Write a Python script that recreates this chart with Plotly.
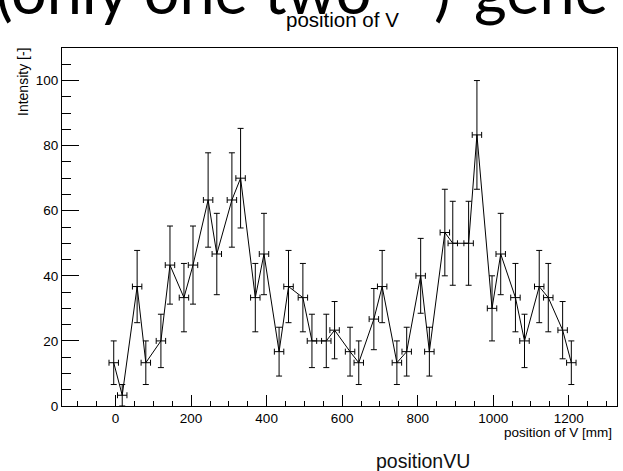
import plotly.graph_objects as go

# ---- data ----
positions_mm = [-5, 17.5, 57, 80, 120, 144, 181, 205, 245, 268,
                308, 331, 370, 393, 433, 458, 496, 520, 558, 580,
                621, 644, 684, 706, 745, 771, 808, 831, 872, 893,
                935, 957, 997, 1020, 1059, 1083, 1122, 1146, 1184, 1207]
intensity = [13.3, 3.3, 36.7, 13.3, 20.0, 43.3, 33.3, 43.3, 63.3, 46.7,
             63.3, 70.0, 33.3, 46.7, 16.7, 36.7, 33.3, 20.0, 20.0, 23.3,
             16.7, 13.3, 26.7, 36.7, 13.3, 16.7, 40.0, 16.7, 53.3, 50.0,
             50.0, 83.3, 30.0, 46.7, 33.3, 20.0, 36.7, 33.3, 23.3, 13.3]
intensity_err = [6.7, 3.3, 11.1, 6.7, 8.2, 12.0, 10.5, 12.0, 14.5, 12.5,
                 14.5, 15.3, 10.5, 12.5, 7.5, 11.1, 10.5, 8.2, 8.2, 8.8,
                 7.5, 6.7, 9.4, 11.1, 6.7, 7.5, 11.5, 7.5, 13.3, 12.9,
                 12.9, 16.7, 10.0, 12.5, 10.5, 8.2, 11.1, 10.5, 8.8, 6.7]
position_half_width = 12.5

x_tick_values = [0, 200, 400, 600, 800, 1000, 1200]
y_tick_values = [0, 20, 40, 60, 80, 100]

title_text = "position of V"
x_title = "position of V [mm]"
y_title = "Intensity [-]"
bottom_text = "positionVU"
slide_text_parts = ["(only one two", ")", "gene"]

# ---- layout geometry (pixels) ----
W, H = 623, 471
ML, MR, MT, MB = 62, 6, 48, 65
PW, PH = W - ML - MR, H - MT - MB


def px(x):
    return (x - ML) / PW


def py(y):
    return (H - MB - y) / PH


AX_FONT = "Liberation Sans, Arial, sans-serif"
SLIDE_FONT = dict(family="Lato, Carlito, sans-serif", size=63, color="black")

fig = go.Figure()
fig.add_trace(go.Scatter(
    x=positions_mm, y=intensity, mode="lines",
    line=dict(color="black", width=1),
    error_y=dict(type="data", array=intensity_err, visible=True,
                 color="black", thickness=1, width=3),
    error_x=dict(type="constant", value=position_half_width, visible=True,
                 color="black", thickness=1, width=3),
    showlegend=False, hoverinfo="x+y",
))

fig.update_layout(
    width=W, height=H,
    margin=dict(l=ML, r=MR, t=MT, b=MB, pad=0),
    paper_bgcolor="white", plot_bgcolor="white",
    font=dict(family=AX_FONT, color="black", size=14),
    xaxis=dict(range=[-142, 1328], tickvals=x_tick_values,
               ticks="inside", ticklen=11, tickwidth=1, tickcolor="black",
               minor=dict(dtick=50, ticks="inside", ticklen=5.5,
                          tickcolor="black", tickwidth=1, showgrid=False),
               showline=True, linecolor="black", linewidth=1, mirror=True,
               showgrid=False, zeroline=False,
               tickfont=dict(size=13.5, family=AX_FONT, color="black")),
    yaxis=dict(range=[0, 110], tickvals=y_tick_values,
               ticks="inside", ticklen=17, tickwidth=1, tickcolor="black",
               minor=dict(dtick=5, ticks="inside", ticklen=8.5,
                          tickcolor="black", tickwidth=1, showgrid=False),
               showline=True, linecolor="black", linewidth=1, mirror=True,
               showgrid=False, zeroline=False,
               tickfont=dict(size=13.5, family=AX_FONT, color="black")),
)

annotations = [
    dict(text=slide_text_parts[0], x=px(-6), y=py(29), xanchor="left", yanchor="bottom",
         font=SLIDE_FONT),
    dict(text=slide_text_parts[1], x=px(442), y=py(29), xanchor="center", yanchor="bottom",
         font=SLIDE_FONT),
    dict(text=slide_text_parts[2], x=px(472), y=py(29), xanchor="left", yanchor="bottom",
         font=SLIDE_FONT),
    dict(text=title_text, x=px(342), y=py(20), xanchor="center", yanchor="middle",
         font=dict(family=AX_FONT, size=20.5, color="black")),
    dict(text=x_title, x=px(614), y=py(432), xanchor="right", yanchor="middle",
         font=dict(family=AX_FONT, size=13.5, color="black")),
    dict(text=y_title, x=px(23), y=py(82), xanchor="center", yanchor="middle",
         textangle=-90, font=dict(family=AX_FONT, size=14, color="black")),
    dict(text=bottom_text, x=px(423), y=py(461), xanchor="center", yanchor="middle",
         font=dict(family=AX_FONT, size=19.5, color="#111111")),
]
for a in annotations:
    a.update(xref="paper", yref="paper", showarrow=False)
fig.update_layout(annotations=annotations)

fig.write_html("out.html")
